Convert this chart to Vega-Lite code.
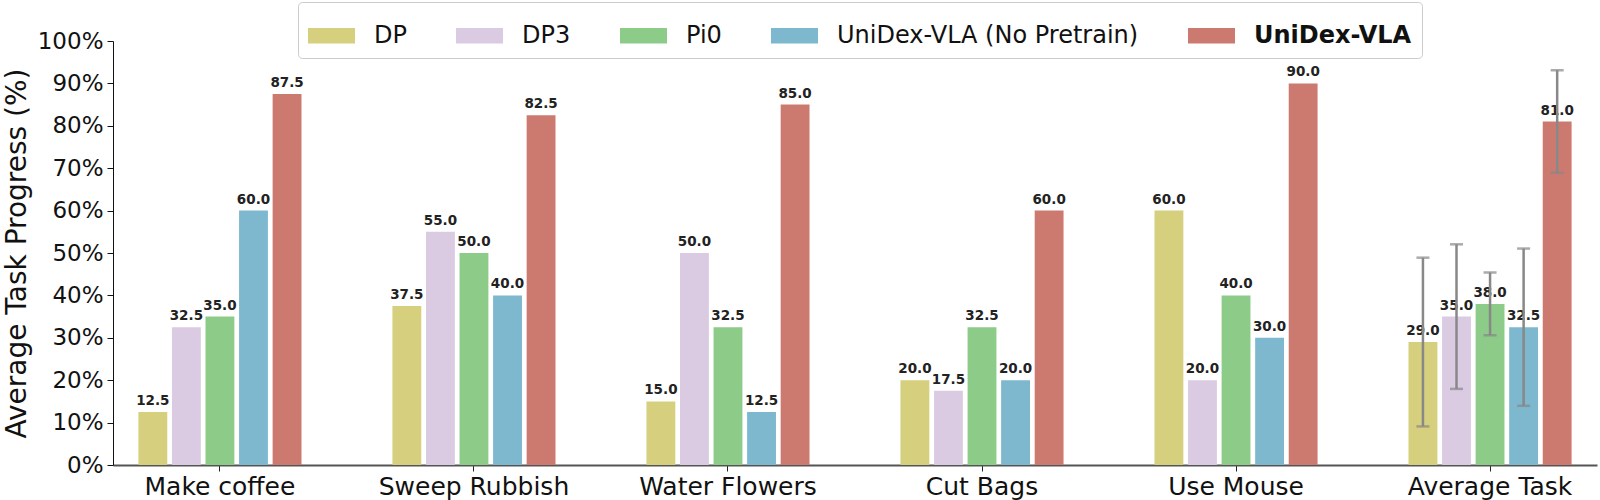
{
  "$schema": "https://vega.github.io/schema/vega-lite/v6.json",
  "width": 1484,
  "height": 424,
  "autosize": {"type": "none"},
  "padding": {"left": 113, "top": 41, "right": 3, "bottom": 35},
  "config": {
    "view": {"stroke": null},
    "font": "DejaVu Sans"
  },
  "datasets": {
    "scores": [
      {"task": "Make coffee", "method": "DP", "progress": 12.5},
      {"task": "Make coffee", "method": "DP3", "progress": 32.5},
      {"task": "Make coffee", "method": "Pi0", "progress": 35.0},
      {"task": "Make coffee", "method": "UniDex-VLA (No Pretrain)", "progress": 60.0},
      {"task": "Make coffee", "method": "UniDex-VLA", "progress": 87.5},
      {"task": "Sweep Rubbish", "method": "DP", "progress": 37.5},
      {"task": "Sweep Rubbish", "method": "DP3", "progress": 55.0},
      {"task": "Sweep Rubbish", "method": "Pi0", "progress": 50.0},
      {"task": "Sweep Rubbish", "method": "UniDex-VLA (No Pretrain)", "progress": 40.0},
      {"task": "Sweep Rubbish", "method": "UniDex-VLA", "progress": 82.5},
      {"task": "Water Flowers", "method": "DP", "progress": 15.0},
      {"task": "Water Flowers", "method": "DP3", "progress": 50.0},
      {"task": "Water Flowers", "method": "Pi0", "progress": 32.5},
      {"task": "Water Flowers", "method": "UniDex-VLA (No Pretrain)", "progress": 12.5},
      {"task": "Water Flowers", "method": "UniDex-VLA", "progress": 85.0},
      {"task": "Cut Bags", "method": "DP", "progress": 20.0},
      {"task": "Cut Bags", "method": "DP3", "progress": 17.5},
      {"task": "Cut Bags", "method": "Pi0", "progress": 32.5},
      {"task": "Cut Bags", "method": "UniDex-VLA (No Pretrain)", "progress": 20.0},
      {"task": "Cut Bags", "method": "UniDex-VLA", "progress": 60.0},
      {"task": "Use Mouse", "method": "DP", "progress": 60.0},
      {"task": "Use Mouse", "method": "DP3", "progress": 20.0},
      {"task": "Use Mouse", "method": "Pi0", "progress": 40.0},
      {"task": "Use Mouse", "method": "UniDex-VLA (No Pretrain)", "progress": 30.0},
      {"task": "Use Mouse", "method": "UniDex-VLA", "progress": 90.0},
      {"task": "Average Task", "method": "DP", "progress": 29.0},
      {"task": "Average Task", "method": "DP3", "progress": 35.0},
      {"task": "Average Task", "method": "Pi0", "progress": 38.0},
      {"task": "Average Task", "method": "UniDex-VLA (No Pretrain)", "progress": 32.5},
      {"task": "Average Task", "method": "UniDex-VLA", "progress": 81.0}
    ],
    "errors": [
      {"task": "Average Task", "method": "DP", "lo": 9.1, "hi": 48.9},
      {"task": "Average Task", "method": "DP3", "lo": 17.95, "hi": 52.05},
      {"task": "Average Task", "method": "Pi0", "lo": 30.6, "hi": 45.4},
      {"task": "Average Task", "method": "UniDex-VLA (No Pretrain)", "lo": 13.95, "hi": 51.05},
      {"task": "Average Task", "method": "UniDex-VLA", "lo": 68.9, "hi": 93.1}
    ]
  },
  "encoding": {
    "x": {
      "field": "task",
      "type": "nominal",
      "sort": ["Make coffee", "Sweep Rubbish", "Water Flowers", "Cut Bags", "Use Mouse", "Average Task"],
      "scale": {"paddingInner": 0.358, "paddingOuter": 0.1},
      "axis": {
        "title": null,
        "labelAngle": 0,
        "labelFontSize": 25,
        "labelColor": "#111111",
        "labelLimit": 400,
        "labelPadding": 3,
        "tickSize": 6,
        "tickColor": "#222222",
        "domainColor": "#555555",
        "domainWidth": 2
      }
    },
    "xOffset": {
      "field": "method",
      "type": "nominal",
      "sort": ["DP", "DP3", "Pi0", "UniDex-VLA (No Pretrain)", "UniDex-VLA"],
      "scale": {"paddingInner": 0.14, "paddingOuter": 0}
    }
  },
  "layer": [
    {
      "data": {"name": "scores"},
      "mark": {"type": "bar"},
      "encoding": {
        "y": {
          "field": "progress",
          "type": "quantitative",
          "scale": {"domain": [0, 100], "nice": false},
          "axis": {
            "title": "Average Task Progress (%)",
            "titleFontSize": 28,
            "titleFontWeight": "normal",
            "titleColor": "#111111",
            "titlePadding": 6,
            "values": [0, 10, 20, 30, 40, 50, 60, 70, 80, 90, 100],
            "labelExpr": "datum.value + '%'",
            "labelFontSize": 23,
            "labelColor": "#111111",
            "labelPadding": 4,
            "tickSize": 6,
            "tickColor": "#111111",
            "domainColor": "#111111",
            "grid": false
          }
        },
        "color": {
          "field": "method",
          "type": "nominal",
          "sort": ["DP", "DP3", "Pi0", "UniDex-VLA (No Pretrain)", "UniDex-VLA"],
          "scale": {
            "domain": ["DP", "DP3", "Pi0", "UniDex-VLA (No Pretrain)", "UniDex-VLA"],
            "range": ["#d6cf7d", "#dacbe3", "#8dcb89", "#7db8cf", "#cc7a70"]
          },
          "legend": {
            "title": null,
            "orient": "none",
            "legendX": 185,
            "legendY": -39,
            "direction": "horizontal",
            "columns": 5,
            "columnPadding": 49,
            "symbolType": "M-1,-0.33H1V0.33H-1Z",
            "symbolSize": 2209,
            "symbolStrokeWidth": 0,
            "symbolOpacity": 1,
            "labelFontSize": 24,
            "labelColor": "#111111",
            "labelOffset": 19,
            "labelLimit": 400,
            "padding": 10,
            "strokeColor": "#cccccc",
            "cornerRadius": 4,
            "fillColor": "#ffffff",
            "encode": {
              "labels": {
                "update": {
                  "fontWeight": {"signal": "datum.value === 'UniDex-VLA' ? 'bold' : 'normal'"}
                }
              }
            }
          }
        }
      }
    },
    {
      "data": {"name": "scores"},
      "mark": {"type": "text", "baseline": "bottom", "dy": -4, "fontSize": 13.5, "fontWeight": "bold", "color": "#222222"},
      "encoding": {
        "y": {"field": "progress", "type": "quantitative"},
        "text": {"field": "progress", "type": "quantitative", "format": ".1f"}
      }
    },
    {
      "data": {"name": "errors"},
      "mark": {"type": "rule", "color": "#888888", "strokeWidth": 2.5},
      "encoding": {
        "y": {"field": "lo", "type": "quantitative"},
        "y2": {"field": "hi"}
      }
    },
    {
      "data": {"name": "errors"},
      "mark": {"type": "tick", "orient": "horizontal", "color": "#888888", "size": 13, "thickness": 2.5},
      "encoding": {
        "y": {"field": "lo", "type": "quantitative"}
      }
    },
    {
      "data": {"name": "errors"},
      "mark": {"type": "tick", "orient": "horizontal", "color": "#888888", "size": 13, "thickness": 2.5},
      "encoding": {
        "y": {"field": "hi", "type": "quantitative"}
      }
    }
  ]
}
